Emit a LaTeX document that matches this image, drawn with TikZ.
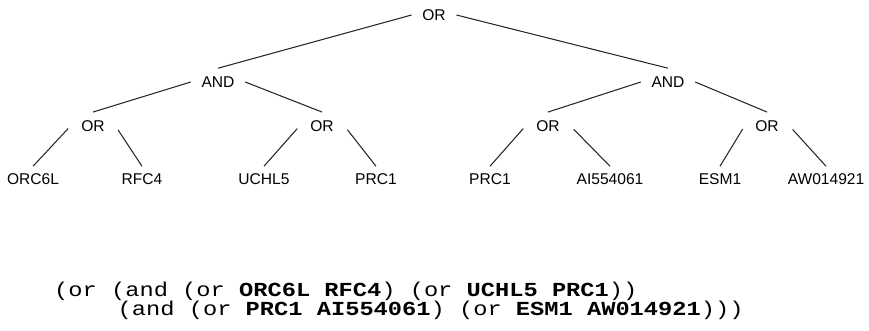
\documentclass[tikz,border=0pt]{standalone}
\usepackage{fontspec}
\setmainfont{Liberation Sans}
\newfontfamily\codefont[FakeStretch=1.19]{Liberation Mono}
\begin{document}
\begin{tikzpicture}[x=0.03cm,y=-0.03cm,
		op/.style={inner xsep=9pt,inner ysep=7pt,font=\fontsize{13.3}{16}\selectfont},
		gene/.style={inner xsep=2pt,inner ysep=6pt,font=\fontsize{13.3}{16}\selectfont},
		edge/.style={line width=0.9pt,black!85},
		code/.style={anchor=base west,inner sep=0pt,font=\codefont\fontsize{17}{20}\selectfont}]
		\useasboundingbox (0,0) rectangle (869,330);
		\node[op] (root) at (434,15) {OR};
		\node[op] (andL) at (218,82) {AND};
		\node[op] (andR) at (668,82) {AND};
		\node[op] (orA) at (93,126) {OR};
		\node[op] (orB) at (322,126) {OR};
		\node[op] (orC) at (548,126) {OR};
		\node[op] (orD) at (767,126) {OR};
		\node[gene] (orc) at (33,179) {ORC6L};
		\node[gene] (rfc) at (142,179) {RFC4};
		\node[gene] (uch) at (264,179) {UCHL5};
		\node[gene] (prcA) at (376,179) {PRC1};
		\node[gene] (prcB) at (490,179) {PRC1};
		\node[gene] (ai) at (610,179) {AI554061};
		\node[gene] (esm) at (720,179) {ESM1};
		\node[gene] (aw) at (826,179) {AW014921};
		\foreach \p/\l/\r in {root/andL/andR,andL/orA/orB,andR/orC/orD}{
			\draw[edge] (\p.west) -- (\l.north);
			\draw[edge] (\p.east) -- (\r.north);
		}
		\foreach \p/\l/\r in {orA/orc/rfc,orB/uch/prcA,orC/prcB/ai,orD/esm/aw}{
			\draw[edge,shorten <=3pt] (\p.west) -- (\l.north);
			\draw[edge,shorten <=4pt] (\p.east) -- (\r.north);
		}
		\node[code] (lineA) at (54,296) {(or (and (or \textbf{ORC6L RFC4}) (or \textbf{UCHL5 PRC1}))};
		\node[code] (lineB) at (117.5,315) {(and (or \textbf{PRC1 AI554061}) (or \textbf{ESM1 AW014921})))};
\end{tikzpicture}
\end{document}
